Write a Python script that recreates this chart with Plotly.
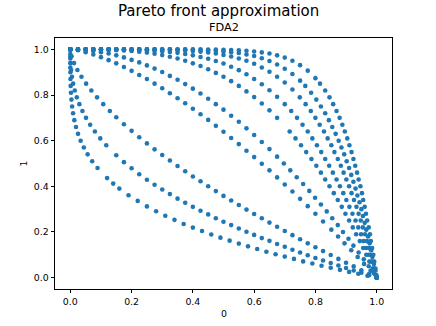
import plotly.graph_objects as go

# ---- data (approximate positions of the scattered fronts) ----
xA = [0.0, 0.0, 0.0, 0.0, 0.0001, 0.0002, 0.0005, 0.0011, 0.0021, 0.0037, 0.0059, 0.009, 0.0131, 0.0185, 0.0252,
      0.0337, 0.0441, 0.0565, 0.0714, 0.0889, 0.12, 0.14, 0.16, 0.19, 0.22, 0.25, 0.28, 0.31, 0.34, 0.37, 0.40,
      0.43, 0.46, 0.49, 0.52, 0.55, 0.58, 0.61, 0.64, 0.67, 0.70, 0.73, 0.76, 0.79, 0.82, 0.85, 0.88, 0.91, 0.94,
      0.97, 1.0]
yA = [1.0, 0.98, 0.96, 0.94, 0.92, 0.90, 0.87, 0.84, 0.81, 0.78, 0.75, 0.72, 0.69, 0.66, 0.63, 0.60, 0.57, 0.54,
      0.51, 0.48, 0.436, 0.412, 0.39, 0.361, 0.336, 0.312, 0.291, 0.271, 0.253, 0.235, 0.219, 0.204, 0.189, 0.175,
      0.162, 0.149, 0.137, 0.125, 0.113, 0.102, 0.092, 0.082, 0.071, 0.062, 0.052, 0.043, 0.034, 0.025, 0.017,
      0.008, 0.0]

xB = [0.0, 0.0002, 0.001, 0.0026, 0.0053, 0.0092, 0.0145, 0.0212, 0.0295, 0.0395, 0.0512, 0.0647, 0.0802, 0.0977,
      0.1173, 0.15, 0.175, 0.2, 0.225, 0.25, 0.275, 0.3, 0.325, 0.35, 0.375, 0.4, 0.425, 0.45, 0.475, 0.5, 0.525,
      0.55, 0.575, 0.6, 0.625, 0.65, 0.675, 0.7, 0.725, 0.75, 0.775, 0.8, 0.825, 0.85, 0.875, 0.9, 0.925, 0.95,
      0.975, 1.0]
yB = [1.0, 0.97, 0.94, 0.91, 0.88, 0.85, 0.82, 0.79, 0.76, 0.73, 0.70, 0.67, 0.64, 0.61, 0.58, 0.536, 0.506,
      0.479, 0.453, 0.429, 0.407, 0.386, 0.366, 0.346, 0.328, 0.310, 0.293, 0.277, 0.260, 0.245, 0.230, 0.215,
      0.201, 0.187, 0.173, 0.161, 0.147, 0.135, 0.122, 0.110, 0.098, 0.086, 0.075, 0.064, 0.053, 0.042, 0.031,
      0.021, 0.010, 0.0]

xC = [0.0, 0.0042, 0.0123, 0.0232, 0.0364, 0.0516, 0.0686, 0.0873, 0.1075, 0.129, 0.15, 0.175, 0.2, 0.225, 0.25,
      0.275, 0.3, 0.325, 0.35, 0.375, 0.4, 0.425, 0.45, 0.475, 0.5, 0.525, 0.55, 0.575, 0.6, 0.625, 0.65, 0.675,
      0.7, 0.725, 0.75, 0.775, 0.8, 0.825, 0.85, 0.875, 0.9, 0.925, 0.95, 0.975, 1.0]
yC = [1.0, 0.97, 0.94, 0.91, 0.88, 0.85, 0.82, 0.79, 0.76, 0.73, 0.703, 0.672, 0.643, 0.615, 0.588, 0.562, 0.537,
      0.513, 0.489, 0.466, 0.443, 0.422, 0.400, 0.379, 0.358, 0.338, 0.318, 0.298, 0.279, 0.260, 0.241, 0.223,
      0.204, 0.186, 0.168, 0.150, 0.133, 0.116, 0.099, 0.082, 0.065, 0.049, 0.032, 0.016, 0.0]

xD = [0.0, 0.025, 0.05, 0.075, 0.1, 0.125, 0.15, 0.175, 0.2, 0.225, 0.25, 0.275, 0.3, 0.325, 0.35, 0.375, 0.4,
      0.425, 0.45, 0.475, 0.5, 0.525, 0.55, 0.575, 0.6, 0.625, 0.65, 0.675, 0.7, 0.725, 0.75, 0.775, 0.8, 0.825,
      0.852, 0.874, 0.895, 0.917, 0.938, 0.959, 0.980, 1.0]
yD = [1.0, 0.996, 0.988, 0.978, 0.966, 0.953, 0.939, 0.923, 0.906, 0.888, 0.870, 0.850, 0.830, 0.808, 0.786,
      0.764, 0.740, 0.716, 0.691, 0.665, 0.639, 0.612, 0.585, 0.556, 0.528, 0.499, 0.470, 0.439, 0.408, 0.377,
      0.345, 0.313, 0.280, 0.246, 0.21, 0.18, 0.15, 0.12, 0.09, 0.06, 0.03, 0.0]

xE = [0.0, 0.025, 0.05, 0.075, 0.1, 0.125, 0.15, 0.175, 0.2, 0.225, 0.25, 0.275, 0.3, 0.325, 0.35, 0.375, 0.4,
      0.425, 0.45, 0.475, 0.5, 0.525, 0.55, 0.575, 0.6, 0.625, 0.65, 0.675, 0.697, 0.718, 0.739, 0.760, 0.780,
      0.799, 0.818, 0.837, 0.855, 0.873, 0.890, 0.908, 0.924, 0.941, 0.958, 0.974, 0.990, 1.0]
yE = [1.0, 0.999, 0.997, 0.993, 0.988, 0.982, 0.974, 0.965, 0.954, 0.943, 0.930, 0.916, 0.901, 0.884, 0.867,
      0.848, 0.828, 0.807, 0.784, 0.760, 0.736, 0.709, 0.683, 0.654, 0.625, 0.594, 0.563, 0.530, 0.50, 0.47,
      0.44, 0.41, 0.38, 0.35, 0.32, 0.29, 0.26, 0.23, 0.20, 0.17, 0.14, 0.11, 0.08, 0.05, 0.02, 0.0]

xF = [0.0, 0.025, 0.05, 0.075, 0.1, 0.125, 0.15, 0.175, 0.2, 0.225, 0.25, 0.275, 0.3, 0.325, 0.35, 0.375, 0.4,
      0.425, 0.45, 0.475, 0.5, 0.525, 0.55, 0.575, 0.6, 0.625, 0.65, 0.675, 0.716, 0.735, 0.753, 0.770, 0.787,
      0.803, 0.818, 0.832, 0.846, 0.860, 0.873, 0.886, 0.898, 0.910, 0.922, 0.933, 0.945, 0.956, 0.966, 0.976,
      0.987, 0.997, 1.0]
yF = [1.0, 1.0, 1.0, 1.0, 0.999, 0.998, 0.997, 0.995, 0.993, 0.990, 0.986, 0.981, 0.975, 0.968, 0.960, 0.950,
      0.939, 0.927, 0.913, 0.897, 0.880, 0.861, 0.840, 0.816, 0.791, 0.763, 0.733, 0.700, 0.64, 0.61, 0.58, 0.55,
      0.52, 0.49, 0.46, 0.43, 0.40, 0.37, 0.34, 0.31, 0.28, 0.25, 0.22, 0.19, 0.16, 0.13, 0.10, 0.07, 0.04, 0.01,
      0.0]

xG = [0.0, 0.025, 0.05, 0.075, 0.1, 0.125, 0.15, 0.175, 0.2, 0.225, 0.25, 0.275, 0.3, 0.325, 0.35, 0.375, 0.4,
      0.425, 0.45, 0.475, 0.5, 0.525, 0.55, 0.575, 0.6, 0.625, 0.65, 0.675, 0.7, 0.721, 0.740, 0.758, 0.775,
      0.790, 0.805, 0.819, 0.832, 0.845, 0.857, 0.869, 0.880, 0.891, 0.901, 0.911, 0.921, 0.931, 0.940, 0.949,
      0.957, 0.966, 0.974, 0.982, 0.990, 0.998, 1.0]
yG = [1.0, 1.0, 1.0, 1.0, 1.0, 1.0, 0.999, 0.999, 0.998, 0.997, 0.996, 0.994, 0.992, 0.989, 0.985, 0.980, 0.974,
      0.967, 0.959, 0.949, 0.938, 0.924, 0.909, 0.891, 0.870, 0.847, 0.821, 0.792, 0.760, 0.73, 0.70, 0.67, 0.64,
      0.61, 0.58, 0.55, 0.52, 0.49, 0.46, 0.43, 0.40, 0.37, 0.34, 0.31, 0.28, 0.25, 0.22, 0.19, 0.16, 0.13, 0.10,
      0.07, 0.04, 0.01, 0.0]

xH = [0.0, 0.025, 0.05, 0.075, 0.1, 0.125, 0.15, 0.175, 0.2, 0.225, 0.25, 0.275, 0.3, 0.325, 0.35, 0.375, 0.4,
      0.425, 0.45, 0.475, 0.5, 0.525, 0.55, 0.575, 0.6, 0.625, 0.65, 0.675, 0.7, 0.725, 0.749, 0.768, 0.785,
      0.800, 0.814, 0.828, 0.840, 0.852, 0.862, 0.873, 0.883, 0.892, 0.901, 0.910, 0.918, 0.926, 0.934, 0.941,
      0.948, 0.955, 0.962, 0.968, 0.975, 0.981, 0.987, 0.992, 0.998, 1.0]
yH = [1.0, 1.0, 1.0, 1.0, 1.0, 1.0, 1.0, 1.0, 1.0, 1.0, 0.999, 0.999, 0.998, 0.998, 0.997, 0.995, 0.993, 0.990,
      0.987, 0.982, 0.976, 0.969, 0.960, 0.950, 0.937, 0.921, 0.902, 0.880, 0.855, 0.824, 0.79, 0.76, 0.73, 0.70,
      0.67, 0.64, 0.61, 0.58, 0.55, 0.52, 0.49, 0.46, 0.43, 0.40, 0.37, 0.34, 0.31, 0.28, 0.25, 0.22, 0.19, 0.16,
      0.13, 0.10, 0.07, 0.04, 0.01, 0.0]

xI = [0.0, 0.025, 0.05, 0.075, 0.1, 0.125, 0.15, 0.175, 0.2, 0.225, 0.25, 0.275, 0.3, 0.325, 0.35, 0.375, 0.4,
      0.425, 0.45, 0.475, 0.5, 0.525, 0.55, 0.575, 0.6, 0.625, 0.65, 0.675, 0.7, 0.725, 0.75, 0.767, 0.786, 0.803,
      0.818, 0.832, 0.844, 0.855, 0.866, 0.876, 0.885, 0.894, 0.902, 0.910, 0.917, 0.924, 0.931, 0.937, 0.944,
      0.950, 0.955, 0.961, 0.966, 0.972, 0.977, 0.982, 0.986, 0.991, 0.996, 1.0]
yI = [1.0, 1.0, 1.0, 1.0, 1.0, 1.0, 1.0, 1.0, 1.0, 1.0, 1.0, 1.0, 1.0, 1.0, 0.999, 0.999, 0.998, 0.997, 0.996,
      0.994, 0.992, 0.988, 0.984, 0.978, 0.971, 0.961, 0.949, 0.934, 0.915, 0.892, 0.863, 0.84, 0.81, 0.78, 0.75,
      0.72, 0.69, 0.66, 0.63, 0.60, 0.57, 0.54, 0.51, 0.48, 0.45, 0.42, 0.39, 0.36, 0.33, 0.30, 0.27, 0.24, 0.21,
      0.18, 0.15, 0.12, 0.09, 0.06, 0.03, 0.0]

xJ = [0.0, 0.025, 0.05, 0.075, 0.1, 0.125, 0.15, 0.175, 0.2, 0.225, 0.25, 0.275, 0.3, 0.325, 0.35, 0.375, 0.4,
      0.425, 0.45, 0.475, 0.5, 0.525, 0.55, 0.575, 0.6, 0.625, 0.65, 0.675, 0.7, 0.725, 0.75, 0.775, 0.8, 0.815,
      0.832, 0.846, 0.858, 0.869, 0.879, 0.888, 0.896, 0.904, 0.911, 0.918, 0.924, 0.930, 0.936, 0.941, 0.947,
      0.952, 0.956, 0.961, 0.965, 0.969, 0.974, 0.978, 0.981, 0.985, 0.989, 0.992, 0.996, 0.999, 1.0]
yJ = [1.0, 1.0, 1.0, 1.0, 1.0, 1.0, 1.0, 1.0, 1.0, 1.0, 1.0, 1.0, 1.0, 1.0, 1.0, 1.0, 1.0, 1.0, 0.999, 0.999,
      0.998, 0.997, 0.996, 0.994, 0.991, 0.987, 0.982, 0.974, 0.964, 0.950, 0.931, 0.907, 0.874, 0.85, 0.82, 0.79,
      0.76, 0.73, 0.70, 0.67, 0.64, 0.61, 0.58, 0.55, 0.52, 0.49, 0.46, 0.43, 0.40, 0.37, 0.34, 0.31, 0.28, 0.25,
      0.22, 0.19, 0.16, 0.13, 0.10, 0.07, 0.04, 0.01, 0.0]

tick_vals = [0.0, 0.2, 0.4, 0.6, 0.8, 1.0]
tick_text = ["0.0", "0.2", "0.4", "0.6", "0.8", "1.0"]

series = [(xA, yA), (xB, yB), (xC, yC), (xD, yD), (xE, yE), (xF, yF), (xG, yG), (xH, yH), (xI, yI), (xJ, yJ)]

FONT = "DejaVu Sans, Liberation Sans, sans-serif"
BLUE = "#1f77b4"

fig = go.Figure()
for xs, ys in series:
    assert len(xs) == len(ys), (len(xs), len(ys))
    fig.add_trace(go.Scatter(x=xs, y=ys, mode="markers", showlegend=False, hoverinfo="skip",
                             marker=dict(size=4.6, color=BLUE, line=dict(width=0))))

axis_common = dict(range=[-0.05, 1.05], tickvals=tick_vals, ticktext=tick_text, ticks="outside",
                   ticklen=3.5, tickwidth=0.8, tickcolor="black", showline=True, linecolor="black",
                   linewidth=0.8, mirror=True, showgrid=False, zeroline=False,
                   tickfont=dict(family=FONT, size=9.4, color="black"))

fig.update_layout(
    width=436, height=326,
    margin=dict(l=55, r=44, t=38, b=37),
    paper_bgcolor="white", plot_bgcolor="white",
    xaxis=axis_common, yaxis=axis_common,
    font=dict(family=FONT, color="black"),
    annotations=[
        dict(text="Pareto front approximation", x=0.4837, y=1.106, xref="paper", yref="paper",
             xanchor="center", yanchor="middle", showarrow=False, font=dict(size=15, family=FONT)),
        dict(text="FDA2", x=0.5, y=1.042, xref="paper", yref="paper",
             xanchor="center", yanchor="middle", showarrow=False, font=dict(size=11.3, family=FONT)),
        dict(text="0", x=0.5, y=-0.096, xref="paper", yref="paper",
             xanchor="center", yanchor="middle", showarrow=False, font=dict(size=9.4, family=FONT)),
        dict(text="1", x=-0.092, y=0.5, xref="paper", yref="paper", textangle=-90,
             xanchor="center", yanchor="middle", showarrow=False, font=dict(size=9.4, family=FONT)),
    ],
)

fig.write_html("out.html", config={"displayModeBar": False},
               post_script="document.body.style.margin='0';")
